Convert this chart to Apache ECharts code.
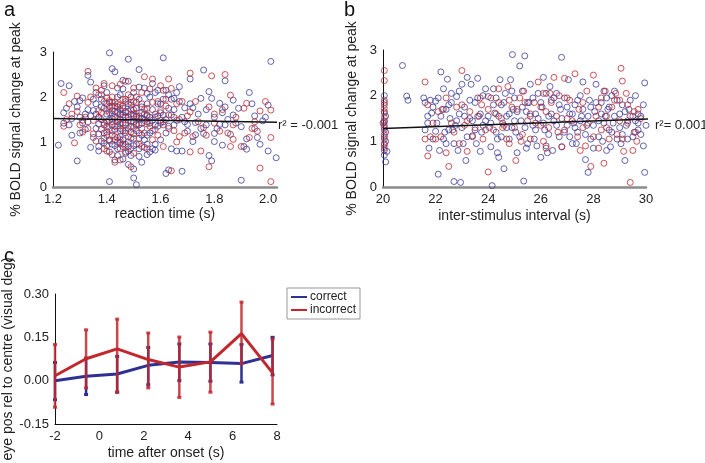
<!DOCTYPE html>
<html><head><meta charset="utf-8">
<script src="https://cdn.jsdelivr.net/npm/echarts@6/dist/echarts.min.js"></script>
<style>html,body{margin:0;padding:0;background:#fff}#m{width:705px;height:463px}</style>
</head><body><div id="m"></div>
<script>
// ---- Panel a: reaction time vs BOLD ----
const aBlue = [[1.23,2.30],[1.22,0.93],[1.24,1.42],[1.24,1.65],[1.26,2.25],[1.27,1.52],[1.29,1.78],[1.29,0.58],[1.30,1.92],[1.30,1.20],[1.31,1.98],[1.32,1.62],[1.33,2.48],[1.33,1.45],[1.34,2.33],[1.34,0.88],[1.35,1.70],[1.35,1.10],[1.36,1.85],[1.36,1.30],[1.37,1.55],[1.37,0.80],[1.38,2.05],[1.38,1.95],[1.38,1.02],[1.39,1.75],[1.39,1.38],[1.40,1.62],[1.40,1.15],[1.40,0.92],[1.41,2.98],[1.41,1.88],[1.41,1.48],[1.41,0.12],[1.42,2.63],[1.42,1.70],[1.42,1.25],[1.42,0.95],[1.43,2.56],[1.43,1.80],[1.43,1.55],[1.43,1.05],[1.43,0.60],[1.44,2.20],[1.44,1.65],[1.44,1.35],[1.44,0.85],[1.45,2.05],[1.45,1.72],[1.45,1.50],[1.45,1.12],[1.46,2.37],[1.46,1.60],[1.46,1.42],[1.46,0.90],[1.47,1.90],[1.47,1.55],[1.47,1.20],[1.47,0.75],[1.48,2.84],[1.48,2.35],[1.48,1.68],[1.48,1.30],[1.48,1.00],[1.49,1.82],[1.49,1.45],[1.49,0.85],[1.50,2.10],[1.50,1.58],[1.50,1.18],[1.50,0.40],[1.50,0.20],[1.51,1.75],[1.51,1.40],[1.51,0.95],[1.51,0.05],[1.52,2.61],[1.52,1.95],[1.52,1.52],[1.52,1.08],[1.53,1.65],[1.53,1.30],[1.53,0.55],[1.54,2.20],[1.54,1.48],[1.54,0.88],[1.55,1.85],[1.55,1.60],[1.55,1.15],[1.56,2.00],[1.56,1.42],[1.56,0.78],[1.57,1.72],[1.57,1.25],[1.58,2.10],[1.58,1.55],[1.58,0.95],[1.59,1.85],[1.59,1.35],[1.60,1.65],[1.60,1.05],[1.61,2.87],[1.61,1.95],[1.61,1.45],[1.62,2.15],[1.62,1.20],[1.62,0.30],[1.63,1.75],[1.63,0.38],[1.64,1.60],[1.64,0.85],[1.65,1.97],[1.65,1.38],[1.66,0.80],[1.66,1.48],[1.67,2.23],[1.67,1.90],[1.68,0.80],[1.68,0.35],[1.69,1.76],[1.70,1.39],[1.70,1.24],[1.71,2.40],[1.72,1.76],[1.72,1.01],[1.73,1.43],[1.73,1.16],[1.75,1.97],[1.76,1.19],[1.76,2.60],[1.77,1.38],[1.78,2.12],[1.78,0.70],[1.79,0.58],[1.79,1.97],[1.80,1.01],[1.80,1.19],[1.82,1.86],[1.82,1.39],[1.83,0.93],[1.84,2.36],[1.84,1.78],[1.84,1.38],[1.86,1.17],[1.87,1.93],[1.87,1.60],[1.90,1.34],[1.90,0.15],[1.92,1.07],[1.92,0.84],[1.93,2.10],[1.95,1.58],[1.95,1.30],[1.98,1.47],[2.00,0.80],[2.00,1.82],[2.01,2.79],[2.03,0.65],
[1.36,1.62],[1.37,1.40],[1.38,1.78],[1.38,1.50],[1.39,1.20],[1.39,0.98],[1.40,1.85],[1.40,1.35],[1.41,1.05],[1.41,1.65],[1.42,1.52],[1.42,1.38],[1.42,1.88],[1.43,1.28],[1.43,1.68],[1.43,0.92],[1.44,1.45],[1.44,1.78],[1.44,1.10],[1.45,1.30],[1.45,0.98],[1.45,1.62],[1.46,1.75],[1.46,1.25],[1.46,1.05],[1.47,1.42],[1.47,1.68],[1.47,0.95],[1.48,1.55],[1.48,1.85],[1.48,0.80],[1.49,1.35],[1.49,1.62],[1.49,1.08],[1.50,1.45],[1.50,1.72],[1.50,0.92],[1.51,1.58],[1.51,1.25],[1.51,1.88],[1.52,1.38],[1.52,0.85],[1.53,1.52],[1.53,1.78],[1.53,1.15],[1.54,1.62],[1.54,1.05],[1.55,1.45],[1.55,0.95],[1.56,1.55],[1.56,1.20],[1.57,1.48],[1.57,0.85],[1.58,1.38],[1.59,1.58],[1.60,1.42],[1.60,1.85],[1.61,1.60],[1.62,1.50],[1.63,1.35],[1.64,1.95],[1.65,1.72],[1.66,2.10],[1.68,1.55],[1.69,1.45],[1.71,1.85],[1.74,1.62],[1.75,1.30],[1.77,1.72],[1.80,1.55],[1.81,1.30],[1.83,1.65],[1.85,1.50],[1.88,1.42],[1.89,1.75],[1.91,0.90],[1.94,1.85],[1.96,1.10],[1.97,0.95],[1.99,1.55],[1.25,1.75],[1.26,1.38],[1.27,1.15],[1.28,1.90],[1.30,1.55],[1.31,1.42],[1.32,1.28],[1.33,1.72],[1.34,1.58],[1.35,1.95],[1.36,2.10],[1.37,1.18],[1.39,2.25],[1.40,2.10],[1.44,2.00],[1.46,2.18],[1.49,2.00],[1.52,2.22],[1.55,2.08],[1.57,2.30],[1.59,2.15],[1.63,2.05],[1.37,0.90],[1.41,0.78],[1.44,0.70],[1.46,0.62],[1.49,0.70],[1.52,0.68],[1.55,0.72],[1.58,0.82],[1.48,0.50]];
const aRed = [[1.24,2.10],[1.24,1.35],[1.25,1.50],[1.27,1.62],[1.28,0.98],[1.29,2.02],[1.30,1.38],[1.31,1.22],[1.32,1.55],[1.33,2.57],[1.33,1.88],[1.35,1.48],[1.36,2.20],[1.36,1.02],[1.37,1.70],[1.38,2.15],[1.38,1.28],[1.39,1.90],[1.39,1.08],[1.40,1.98],[1.40,1.45],[1.40,0.80],[1.41,1.78],[1.41,1.30],[1.42,2.00],[1.42,1.62],[1.42,1.15],[1.43,1.88],[1.43,0.55],[1.44,1.50],[1.44,1.00],[1.45,2.28],[1.45,1.82],[1.45,1.25],[1.46,1.95],[1.46,0.95],[1.47,1.65],[1.47,1.38],[1.47,0.78],[1.48,2.05],[1.48,1.12],[1.49,1.72],[1.49,0.45],[1.50,1.90],[1.50,1.32],[1.51,1.55],[1.51,2.00],[1.52,1.20],[1.53,1.85],[1.53,0.90],[1.54,2.45],[1.55,1.40],[1.55,1.75],[1.56,2.18],[1.57,1.05],[1.58,1.62],[1.59,1.90],[1.59,1.15],[1.60,2.25],[1.60,1.48],[1.61,0.90],[1.62,1.80],[1.63,2.40],[1.63,1.30],[1.64,2.19],[1.64,0.36],[1.65,1.55],[1.66,1.00],[1.67,1.50],[1.68,1.90],[1.69,1.20],[1.71,2.53],[1.71,1.67],[1.71,0.78],[1.72,1.12],[1.75,0.80],[1.76,1.32],[1.78,1.78],[1.78,0.45],[1.79,2.47],[1.80,1.62],[1.82,1.24],[1.84,2.50],[1.86,2.04],[1.87,1.38],[1.87,1.06],[1.86,0.90],[1.90,0.90],[1.91,1.75],[1.92,1.86],[1.93,1.10],[1.94,1.30],[1.96,1.24],[1.97,1.69],[1.97,0.42],[2.01,1.71],[2.01,1.10],[2.01,0.12],
[1.37,1.55],[1.38,1.65],[1.39,1.42],[1.40,1.70],[1.40,1.22],[1.41,1.92],[1.41,1.02],[1.42,1.45],[1.42,1.80],[1.43,1.35],[1.43,1.12],[1.44,1.68],[1.44,1.85],[1.45,1.40],[1.45,1.05],[1.46,1.55],[1.46,1.80],[1.47,1.25],[1.47,1.95],[1.48,1.48],[1.48,0.90],[1.49,1.88],[1.49,1.22],[1.50,1.62],[1.50,1.08],[1.51,1.38],[1.51,1.75],[1.52,1.58],[1.52,0.95],[1.53,1.42],[1.54,1.72],[1.54,1.20],[1.55,1.58],[1.56,1.35],[1.57,1.88],[1.58,1.28],[1.60,1.70],[1.61,1.38],[1.62,1.95],[1.63,1.60],[1.65,1.25],[1.66,1.85],[1.67,1.12],[1.70,1.58],[1.73,1.90],[1.74,1.45],[1.77,1.15],[1.80,1.42],[1.83,1.72],[1.85,1.20],[1.88,1.55],[1.95,1.45],[1.99,1.90],[1.26,1.85],[1.29,1.68],[1.31,1.48],[1.33,1.30],[1.34,2.00],[1.35,1.18],[1.37,2.05],[1.39,2.30],[1.42,2.25],[1.47,2.35],[1.50,2.20],[1.53,2.10],[1.57,2.40],[1.61,2.15],[1.39,0.85],[1.42,0.72],[1.45,0.60],[1.50,0.75],[1.55,0.85],[1.45,0.85]];
const aFit = [[1.2,1.52],[2.033,1.44]];
const aLabel = 'r\u00b2 = -0.001';

// ---- Panel b: ISI vs BOLD ----
const bBlue = [[20.05,1.65],[20.05,1.45],[20.05,1.30],[20.05,1.10],[20.05,0.95],[20.05,0.80],[20.05,0.70],[20.1,0.55],[20.1,1.55],[20.1,1.20],[20.05,2.00],[20.05,1.85],[20.0,1.40],[20.1,1.00],[20.15,0.78],[20.74,2.66],[20.9,1.99],[20.95,1.90],[21.55,1.95],[21.6,1.25],[21.7,1.55],[21.75,0.85],[21.8,1.90],[21.85,1.62],[21.9,1.05],[22.0,1.88],[22.05,1.40],[22.1,0.28],[22.15,0.80],[22.2,2.52],[22.25,1.70],[22.3,2.15],[22.35,1.20],[22.4,0.95],[22.45,2.36],[22.5,1.80],[22.55,1.50],[22.6,2.05],[22.7,0.12],[22.75,1.35],[22.8,1.98],[22.9,1.60],[22.95,0.10],[23.0,2.25],[23.05,0.95],[23.1,1.75],[23.15,0.58],[23.2,2.40],[23.3,1.50],[23.35,2.25],[23.4,1.12],[23.5,1.85],[23.6,2.38],[23.65,1.55],[23.7,0.78],[23.8,2.00],[23.9,1.45],[24.0,1.98],[24.05,1.30],[24.1,0.88],[24.15,0.03],[24.2,2.15],[24.25,1.62],[24.3,1.95],[24.35,1.05],[24.4,0.65],[24.45,2.35],[24.5,1.80],[24.55,1.40],[24.6,0.40],[24.65,2.05],[24.7,1.55],[24.8,1.05],[24.85,2.35],[24.92,2.90],[24.95,1.70],[25.0,1.95],[25.05,1.20],[25.1,0.75],[25.2,2.65],[25.25,1.45],[25.3,2.10],[25.35,0.13],[25.39,2.87],[25.45,1.65],[25.5,0.95],[25.55,1.85],[25.6,2.25],[25.7,1.35],[25.8,1.60],[25.85,0.90],[25.9,2.05],[26.0,0.65],[26.05,1.75],[26.1,2.40],[26.15,1.25],[26.2,0.90],[26.3,1.55],[26.35,2.20],[26.4,1.90],[26.45,0.80],[26.5,1.45],[26.6,2.05],[26.7,1.10],[26.75,1.70],[26.79,2.84],[26.8,0.88],[26.9,1.95],[27.0,1.35],[27.05,2.35],[27.1,1.60],[27.2,0.95],[27.3,1.80],[27.4,1.20],[27.5,2.00],[27.55,1.55],[27.6,2.30],[27.7,0.60],[27.75,1.35],[27.8,0.32],[27.85,1.90],[27.9,1.05],[28.0,0.85],[28.05,1.65],[28.1,2.25],[28.2,1.45],[28.3,1.85],[28.35,1.00],[28.4,2.10],[28.45,1.55],[28.5,0.80],[28.55,1.70],[28.6,1.25],[28.7,2.00],[28.75,1.40],[28.8,2.10],[28.9,1.05],[29.0,1.60],[29.05,0.95],[29.1,1.80],[29.2,0.58],[29.25,1.35],[29.3,1.05],[29.35,1.70],[29.45,3.01],[29.5,1.55],[29.55,1.20],[29.6,2.00],[29.7,1.40],[29.8,1.15],[29.9,0.90],[29.95,2.28],[29.95,0.32],[30.05,1.65],[29.7,1.60],[23.75,1.20],[25.75,1.05],[27.25,1.40],[24.9,1.30],[22.65,1.25],
[21.6,1.85],[21.7,1.40],[21.9,1.75],[22.0,1.22],[22.1,1.95],[22.2,1.55],[22.3,1.05],[22.4,1.70],[22.5,1.25],[22.6,1.85],[22.7,0.95],[22.8,1.45],[22.9,2.10],[23.0,1.30],[23.1,1.55],[23.2,1.10],[23.3,1.90],[23.4,1.45],[23.5,1.25],[23.6,1.95],[23.7,1.60],[23.8,1.35],[23.9,2.15],[24.0,1.55],[24.1,1.40],[24.2,1.80],[24.3,1.20],[24.4,1.55],[24.5,1.10],[24.6,1.85],[24.7,1.30],[24.8,1.60],[24.9,2.10],[25.0,1.45],[25.1,1.65],[25.2,1.10],[25.3,1.75],[25.4,1.30],[25.5,1.85],[25.6,1.55],[25.7,1.95],[25.8,1.25],[25.9,1.50],[26.0,1.85],[26.1,1.40],[26.2,2.05],[26.3,1.15],[26.4,1.60],[26.5,1.95],[26.6,1.35],[26.7,1.80],[26.8,1.50],[26.9,1.20],[27.0,1.75],[27.1,1.10],[27.2,1.60],[27.3,1.30],[27.4,1.90],[27.5,1.45],[27.6,1.70],[27.7,1.15],[27.8,1.55],[27.9,1.75],[28.0,1.35],[28.1,1.85],[28.2,1.10],[28.3,1.60],[28.4,1.40],[28.5,1.95],[28.6,1.75],[28.7,1.20],[28.8,1.55],[28.9,1.90],[29.0,1.30],[29.1,1.15],[29.2,1.65],[29.3,1.45],[29.4,1.90],[29.5,1.10],[29.6,1.45],[29.7,1.25],[29.8,1.55],[29.9,1.80],[30.0,1.35],[24.35,0.75],[25.45,0.85],[26.25,0.75],[27.35,0.95],[28.65,0.88],[23.55,0.95],[22.85,0.80]];
const bRed = [[20.05,2.55],[20.05,2.33],[20.05,1.90],[20.05,1.80],[20.05,1.72],[20.05,1.62],[20.05,1.52],[20.05,1.42],[20.05,1.35],[20.05,1.25],[20.05,1.15],[20.05,1.05],[20.05,0.92],[20.05,0.85],[21.6,2.30],[21.6,1.05],[21.7,0.68],[21.8,1.10],[22.0,1.05],[22.3,1.70],[22.4,0.75],[22.5,0.45],[22.6,1.40],[22.8,1.75],[22.9,0.95],[23.0,2.55],[23.1,1.35],[23.2,0.78],[23.3,1.65],[23.4,1.10],[23.6,1.55],[23.75,1.80],[23.9,1.25],[24.0,0.33],[24.1,1.95],[24.3,1.60],[24.4,2.15],[24.6,1.35],[24.75,2.20],[24.9,1.75],[25.05,0.58],[25.2,1.95],[25.35,2.10],[25.5,1.45],[25.6,1.05],[25.75,1.85],[25.9,2.30],[26.0,1.35],[26.2,1.65],[26.35,2.05],[26.5,2.40],[26.65,1.20],[26.8,0.88],[26.9,2.38],[27.0,1.50],[27.1,1.90],[27.3,2.48],[27.45,1.70],[27.5,0.80],[27.6,1.30],[27.75,2.10],[27.9,0.45],[28.0,2.45],[28.1,1.55],[28.2,0.85],[28.4,0.52],[28.45,2.10],[28.5,1.30],[28.7,1.75],[28.85,2.05],[28.9,1.15],[29.0,1.90],[29.05,2.60],[29.1,2.32],[29.15,0.78],[29.25,2.05],[29.3,1.40],[29.4,0.10],[29.5,0.80],[29.55,1.65],[29.65,1.00],[29.7,1.70],[24.55,1.30],[26.1,1.00],[22.2,1.10],[28.3,1.25],
[21.7,1.80],[21.9,1.40],[22.1,1.65],[22.4,1.95],[22.7,1.20],[23.0,1.80],[23.2,1.45],[23.5,1.30],[23.7,1.95],[23.8,1.05],[24.0,1.70],[24.2,1.25],[24.4,1.85],[24.5,1.50],[24.7,1.05],[24.8,1.90],[25.0,1.30],[25.1,1.70],[25.3,1.15],[25.4,1.85],[25.6,1.60],[25.8,1.40],[26.0,1.75],[26.1,2.05],[26.3,1.30],[26.4,1.85],[26.6,1.55],[26.7,2.00],[26.9,1.25],[27.0,1.95],[27.2,1.45],[27.4,1.10],[27.6,1.85],[27.8,1.40],[28.0,1.10],[28.2,1.75],[28.3,1.95],[28.5,1.55],[28.6,1.05],[28.8,1.90],[29.0,1.45],[29.1,1.05],[29.3,1.80],[29.4,1.55],[29.6,1.20],[29.8,1.50],[24.8,0.95],[26.2,0.85],[27.7,0.90],[25.25,1.00]];
const bFit = [[20,1.28],[30.25,1.49]];
const bLabel = 'r\u00b2= 0.001';

// ---- Panel c: eye position ----
const cTimes = [-2, -0.6, 0.8, 2.2, 3.6, 5.0, 6.4, 7.8];
const cCorrect = [0.000, 0.015, 0.023, 0.053, 0.065, 0.063, 0.059, 0.087];
const cCorrectLo = [-0.066, -0.048, -0.040, -0.014, 0.000, -0.002, -0.005, 0.020];
const cCorrectHi = [0.063, 0.078, 0.084, 0.115, 0.127, 0.127, 0.125, 0.150];
const cIncorrect = [0.017, 0.076, 0.110, 0.073, 0.047, 0.065, 0.163, 0.027];
const cIncorrectLo = [-0.092, -0.025, -0.040, -0.025, -0.058, -0.040, 0.059, -0.081];
const cIncorrectHi = [0.125, 0.176, 0.213, 0.165, 0.151, 0.168, 0.272, 0.144];

const BLUE = '#3c3c9c', RED = '#bd2a30';
const CBLUE = '#2e3192', CRED = '#c1272d';
const FONT = 'Liberation Sans, Arial, sans-serif';

function zip(xs, ys){ return xs.map((x,i)=>[x, ys[i]]); }
function errData(xs, lo, hi){ return xs.map((x,i)=>[x, lo[i], hi[i]]); }
function errRender(color, op){
  return function(params, api){
    const x = api.value(0);
    const p1 = api.coord([x, api.value(1)]);
    const p2 = api.coord([x, api.value(2)]);
    const cw = 2;
    const st = {stroke: color, lineWidth: 2.5, opacity: op};
    return {type:'group', children:[
      {type:'line', shape:{x1:p1[0],y1:p1[1],x2:p2[0],y2:p2[1]}, style:st},
      {type:'line', shape:{x1:p1[0]-cw,y1:p1[1],x2:p1[0]+cw,y2:p1[1]}, style:{stroke:color,lineWidth:3,opacity:op}},
      {type:'line', shape:{x1:p2[0]-cw,y1:p2[1],x2:p2[0]+cw,y2:p2[1]}, style:{stroke:color,lineWidth:3,opacity:op}}
    ]};
  };
}

const tickFmt1 = v => (Math.abs(v*5 - Math.round(v*5)) < 1e-6 ? v.toFixed(1) : '');
const lblStyle = {color:'#222', fontSize:13, fontFamily:FONT};
const nameStyle = {color:'#222', fontSize:14, fontFamily:FONT};

function scatterYAxis(idx, gap){
  return {gridIndex: idx, type:'value', min:0, max:3, interval:1,
    name:'% BOLD signal change at peak', nameLocation:'middle', nameGap:gap, nameTextStyle:nameStyle,
    axisLine:{show:true, onZero:false, lineStyle:{color:'#111', width:1}}, axisTick:{show:false},
    axisLabel:Object.assign({margin:6}, lblStyle), splitLine:{show:false}};
}

const chart = echarts.init(document.getElementById('m'), null, {renderer:'canvas'});
chart.setOption({
  animation:false,
  backgroundColor:'#fff',
  textStyle:{fontFamily:FONT},
  grid:[
    {left:53, top:52, width:224, height:135},
    {left:383, top:50, width:263, height:137},
    {left:53, top:294, width:224, height:130}
  ],
  xAxis:[
    {gridIndex:0, type:'value', min:1.2, max:2.033, interval:0.2,
      name:'reaction time (s)', nameLocation:'middle', nameGap:20, nameTextStyle:nameStyle,
      axisLine:{onZero:false, lineStyle:{color:'#8c8c8c', width:2.5}}, axisTick:{show:false},
      axisLabel:Object.assign({margin:6, formatter:tickFmt1, showMaxLabel:true}, lblStyle), splitLine:{show:false}},
    {gridIndex:1, type:'value', min:20, max:30, interval:2,
      name:'inter-stimulus interval (s)', nameLocation:'middle', nameGap:22, nameTextStyle:nameStyle,
      axisLine:{onZero:false, lineStyle:{color:'#8c8c8c', width:2.5}}, axisTick:{show:false},
      axisLabel:Object.assign({margin:6}, lblStyle), splitLine:{show:false}},
    {gridIndex:2, type:'value', min:-2, max:8, interval:2,
      name:'time after onset (s)', nameLocation:'middle', nameGap:22, nameTextStyle:nameStyle,
      axisLine:{onZero:false, lineStyle:{color:'#111', width:1}}, axisTick:{show:false},
      axisLabel:Object.assign({margin:6}, lblStyle), splitLine:{show:false}}
  ],
  yAxis:[
    scatterYAxis(0, 30),
    scatterYAxis(1, 24),
    {gridIndex:2, type:'value', min:-0.15, max:0.30, interval:0.15,
      name:'eye pos rel to centre (visual deg)', nameLocation:'middle', nameGap:40, nameTextStyle:nameStyle,
      axisLine:{show:true, onZero:false, lineStyle:{color:'#111', width:1}}, axisTick:{show:false},
      axisLabel:Object.assign({margin:6, formatter: v => v.toFixed(2)}, lblStyle), splitLine:{show:false}}
  ],
  legend:{
    left:287, top:288, orient:'vertical', itemGap:1, itemWidth:16, itemHeight:2, icon:'rect',
    padding:[3,4,3,4], borderColor:'#999', borderWidth:1,
    textStyle:{fontSize:12, color:'#222', fontFamily:FONT, padding:[0,0,0,-2]},
    data:['correct','incorrect']
  },
  graphic:[
    {type:'text', left:4, top:0, style:{text:'a', fontSize:20, fill:'#111', fontFamily:FONT}},
    {type:'text', left:344, top:0, style:{text:'b', fontSize:20, fill:'#111', fontFamily:FONT}},
    {type:'text', left:4, top:246, style:{text:'c', fontSize:20, fill:'#111', fontFamily:FONT}},
    {type:'text', left:278, top:119, style:{text:aLabel, fontSize:13, fill:'#222', fontFamily:FONT}},
    {type:'text', left:655, top:119, style:{text:bLabel, fontSize:13, fill:'#222', fontFamily:FONT}}
  ],
  series:[
    {type:'scatter', xAxisIndex:0, yAxisIndex:0, data:aBlue, symbol:'circle', symbolSize:6,
      itemStyle:{color:'rgba(0,0,0,0)', borderColor:BLUE, borderWidth:1}},
    {type:'scatter', xAxisIndex:0, yAxisIndex:0, data:aRed, symbol:'circle', symbolSize:6,
      itemStyle:{color:'rgba(0,0,0,0)', borderColor:RED, borderWidth:1}},
    {type:'line', xAxisIndex:0, yAxisIndex:0, data:aFit, showSymbol:false, symbol:'none', clip:false,
      lineStyle:{color:'#111', width:1.5}},
    {type:'scatter', xAxisIndex:1, yAxisIndex:1, data:bBlue, symbol:'circle', symbolSize:6,
      itemStyle:{color:'rgba(0,0,0,0)', borderColor:BLUE, borderWidth:1}},
    {type:'scatter', xAxisIndex:1, yAxisIndex:1, data:bRed, symbol:'circle', symbolSize:6,
      itemStyle:{color:'rgba(0,0,0,0)', borderColor:RED, borderWidth:1}},
    {type:'line', xAxisIndex:1, yAxisIndex:1, data:bFit, showSymbol:false, symbol:'none', clip:false,
      lineStyle:{color:'#111', width:1.5}},
    {type:'custom', xAxisIndex:2, yAxisIndex:2, data:errData(cTimes, cCorrectLo, cCorrectHi),
      renderItem: errRender(CBLUE, 1), z:2},
    {type:'line', name:'correct', xAxisIndex:2, yAxisIndex:2, data:zip(cTimes, cCorrect), showSymbol:false, symbol:'none',
      lineStyle:{color:CBLUE, width:3}, itemStyle:{color:CBLUE}, z:3},
    {type:'custom', xAxisIndex:2, yAxisIndex:2, data:errData(cTimes, cIncorrectLo, cIncorrectHi),
      renderItem: errRender(CRED, 0.85), z:4},
    {type:'line', name:'incorrect', xAxisIndex:2, yAxisIndex:2, data:zip(cTimes, cIncorrect), showSymbol:false, symbol:'none',
      lineStyle:{color:CRED, width:3}, itemStyle:{color:CRED}, z:5}
  ]
});
</script></body></html>
